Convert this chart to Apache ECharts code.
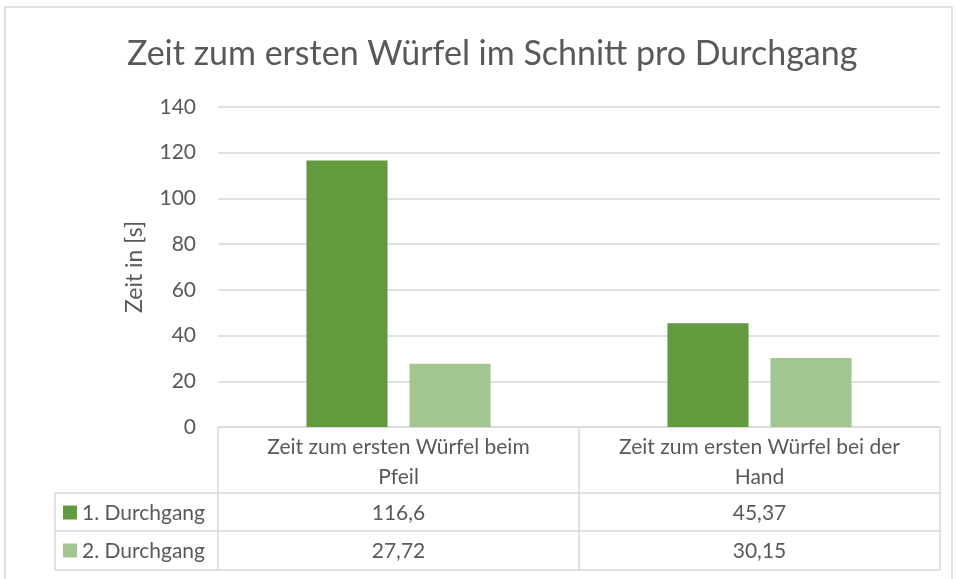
<!DOCTYPE html>
<html>
<head>
<meta charset="UTF-8">
<title>Zeit zum ersten Würfel</title>
<script src="https://cdn.jsdelivr.net/npm/echarts@6/dist/echarts.min.js"></script>
<style>
  html, body { margin: 0; padding: 0; background: #fff; }
  #main { width: 957px; height: 579px; }
</style>
</head>
<body>
<div id="main"></div>
<script>
// Daten
var categories = ['Zeit zum ersten Würfel beim\nPfeil', 'Zeit zum ersten Würfel bei der\nHand'];
var seriesNames = ['1. Durchgang', '2. Durchgang'];
var durchgang1 = [116.6, 45.37];
var durchgang2 = [27.72, 30.15];
var yTicks = [0, 20, 40, 60, 80, 100, 120, 140];

var colors = ['#629b3e', '#a2c690'];
var textColor = '#595959';
var lineColor = '#d9d9d9';
var font = 'Lato, "Open Sans", sans-serif';

var gridLeft = 218, gridRight = 17, gridTop = 107, gridBottom = 152;

var chart = echarts.init(document.getElementById('main'));

chart.setOption({
  animation: false,
  textStyle: { fontFamily: font },
  title: {
    text: 'Zeit zum ersten Würfel im Schnitt pro Durchgang',
    left: 122,
    top: 32,
    textStyle: { fontSize: 34, fontWeight: 'normal', color: textColor, fontFamily: font }
  },
  grid: { left: gridLeft, right: gridRight, top: gridTop, bottom: gridBottom },
  xAxis: {
    type: 'category',
    data: categories,
    axisLine: { show: true, lineStyle: { color: lineColor, width: 1.5 } },
    axisTick: { show: false },
    axisLabel: {
      interval: 0, hideOverlap: false,
      color: textColor, fontSize: 21, lineHeight: 30, margin: 5, fontFamily: font
    }
  },
  yAxis: {
    type: 'value',
    min: yTicks[0],
    max: yTicks[yTicks.length - 1],
    interval: 20,
    name: 'Zeit in [s]',
    nameLocation: 'middle',
    nameGap: 72,
    nameTextStyle: { color: textColor, fontSize: 23, fontFamily: font },
    axisLine: { show: false },
    axisTick: { show: false },
    axisLabel: { color: textColor, fontSize: 21, margin: 22, fontFamily: font },
    splitLine: { lineStyle: { color: lineColor, width: 1.5 } }
  },
  series: [
    {
      name: seriesNames[0], type: 'bar', data: durchgang1,
      itemStyle: { color: colors[0] },
      barGap: '27%', barCategoryGap: '49%'
    },
    {
      name: seriesNames[1], type: 'bar', data: durchgang2,
      itemStyle: { color: colors[1] }
    }
  ]
});

// Datentabelle unter der Achse
function fmt(v) { return String(v).replace('.', ','); }

var W = 957, H = 579;
var x0 = gridLeft, x2 = W - gridRight;
var x1 = (x0 + x2) / 2;
var tableLeft = 55;
var yAxisLine = H - gridBottom;
var rowTop = [493, 531];
var rowH = 39;
var tableBottom = rowTop[1] + rowH;
var colX = [x0, x1, x2];

var ln = function (a, b, c, d) {
  return { type: 'line', shape: { x1: a, y1: b, x2: c, y2: d }, style: { stroke: lineColor, lineWidth: 1.5 }, silent: true };
};

var els = [];
// Rahmen
els.push({ type: 'rect', shape: { x: 5, y: 7, width: 947, height: 620 }, style: { fill: null, stroke: lineColor, lineWidth: 1.5 }, silent: true });
// senkrechte Linien
els.push(ln(tableLeft, rowTop[0], tableLeft, tableBottom));
colX.forEach(function (x) { els.push(ln(x, yAxisLine, x, tableBottom)); });
// waagrechte Linien
rowTop.forEach(function (y) { els.push(ln(tableLeft, y, x2, y)); });
els.push(ln(tableLeft, tableBottom, x2, tableBottom));

var rows = [durchgang1, durchgang2];
rows.forEach(function (vals, r) {
  var cy = rowTop[r] + rowH / 2;
  els.push({ type: 'rect', shape: { x: 63, y: cy - 7, width: 14, height: 14 }, style: { fill: colors[r] }, silent: true });
  els.push({ type: 'text', x: 82, y: cy + 1, style: { text: seriesNames[r], fill: textColor, fontSize: 21, fontFamily: font, align: 'left', verticalAlign: 'middle' }, silent: true });
  vals.forEach(function (v, c) {
    els.push({ type: 'text', x: (colX[c] + colX[c + 1]) / 2, y: cy + 1, style: { text: fmt(v), fill: textColor, fontSize: 21, fontFamily: font, align: 'center', verticalAlign: 'middle' }, silent: true });
  });
});

chart.setOption({ graphic: { elements: els } });
</script>
</body>
</html>
